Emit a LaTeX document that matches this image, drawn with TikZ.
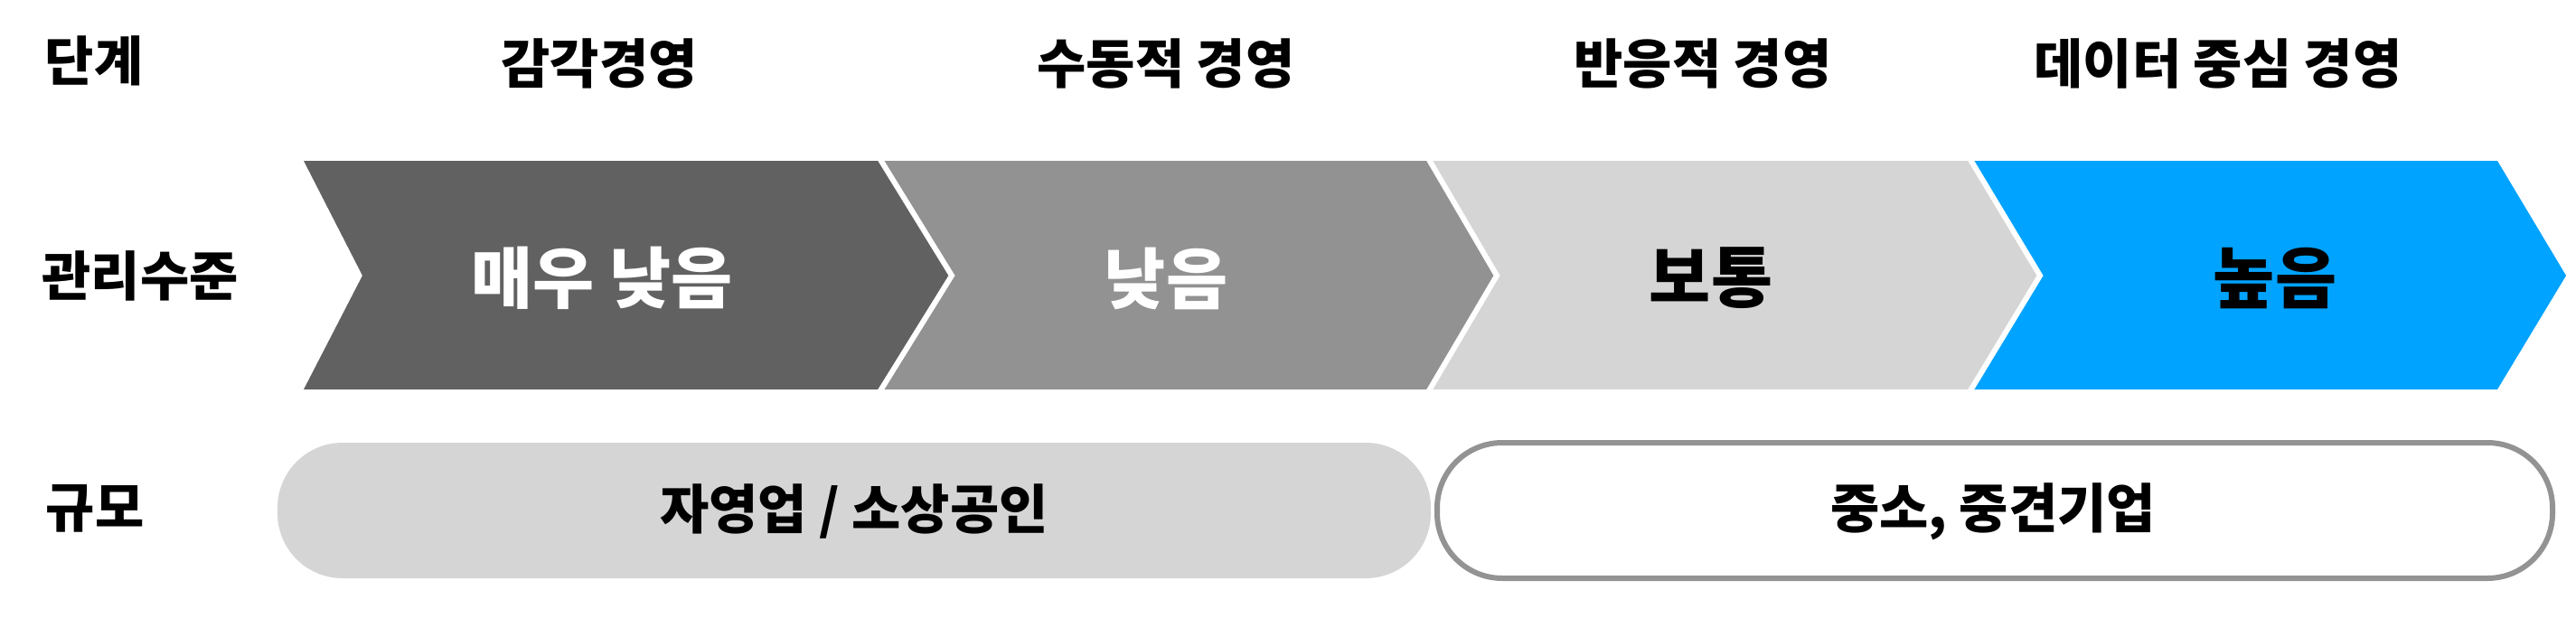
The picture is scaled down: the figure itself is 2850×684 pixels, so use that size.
\documentclass[tikz,border=0pt]{standalone}
\usepackage{fontspec}
\setmainfont{Noto Sans CJK KR}
\definecolor{cone}{HTML}{616161}
\definecolor{ctwo}{HTML}{929292}
\definecolor{cthree}{HTML}{D5D5D5}
\definecolor{cfour}{HTML}{00A3FF}
\definecolor{cborder}{HTML}{939393}
\tikzset{
  hdr/.style={inner sep=0pt, font=\fontsize{59bp}{70bp}\selectfont\bfseries, text=black},
  lbl/.style={inner sep=0pt, font=\fontsize{74bp}{88bp}\selectfont\bfseries},
  sep/.style={draw=white, line width=6bp, line join=miter},
}
\begin{document}
\begin{tikzpicture}[x=1bp,y=-1bp]
\useasboundingbox (0,0) rectangle (2850,684);
% chevrons
\fill[cone]   (336,178) -- (973,178) -- (1053,305) -- (973,431) -- (336,431) -- (401,305) -- cycle;
\fill[ctwo]   (973,178) -- (1580,178) -- (1656,305) -- (1580,431) -- (973,431) -- (1053,305) -- cycle;
\fill[cthree] (1580,178) -- (2179,178) -- (2257,305) -- (2179,431) -- (1580,431) -- (1656,305) -- cycle;
\fill[cfour]  (2179,178) -- (2763,178) -- (2839,305) -- (2763,431) -- (2179,431) -- (2257,305) -- cycle;
\draw[sep] (973,175) -- (1053,305) -- (973,434);
\draw[sep] (1580,175) -- (1656,305) -- (1580,434);
\draw[sep] (2179,175) -- (2257,305) -- (2179,434);
% scale boxes
\fill[cthree, rounded corners=72bp] (307,490) rectangle (1583,640);
\draw[cborder, line width=6bp, fill=white, rounded corners=72bp] (1590,490) rectangle (2824,640);
% header row
\node[hdr] (stage) at (104,67) {단계};
\node[hdr] (h1) at (663,70) {감각경영};
\node[hdr] (h2) at (1290,70) {수동적 경영};
\node[hdr] (h3) at (1884,70) {반응적 경영};
\node[hdr] (h4) at (2454,70) {데이터 중심 경영};
% row labels
\node[hdr] (level) at (155,305) {관리수준};
\node[hdr] (scale) at (105,563) {규모};
% chevron labels
\node[lbl, text=white] (l1) at (666,308) {매우 낮음};
\node[lbl, text=white] (l2) at (1290,308) {낮음};
\node[lbl, text=black] (l3) at (1893,308) {보통};
\node[lbl, text=black] (l4) at (2517,308) {높음};
% scale labels
\node[hdr] (s1) at (945,566) {자영업 / 소상공인};
\node[hdr] (s2) at (2205,566) {중소, 중견기업};
\end{tikzpicture}
\end{document}
